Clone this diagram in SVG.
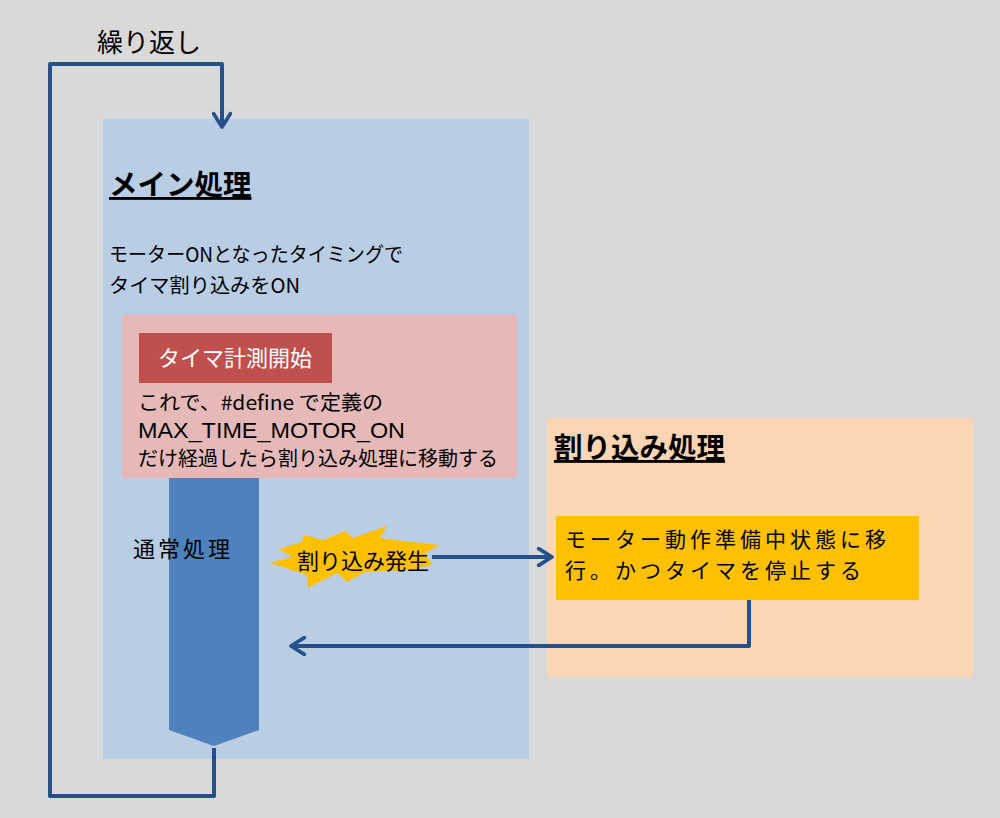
<svg xmlns="http://www.w3.org/2000/svg" width="1000" height="818" viewBox="0 0 1000 818">
<defs>
<marker id="chev" viewBox="0 0 12 12" refX="10" refY="6" markerWidth="5" markerHeight="5" markerUnits="strokeWidth" orient="auto">
<path d="M2,1 L10,6 L2,11" fill="none" stroke="#25508a" stroke-width="2.2" stroke-linecap="round" stroke-linejoin="round"/>
</marker>
</defs>
<style>
text{font-family:"Noto Sans CJK JP","Noto Sans",sans-serif;fill:#000}
.t{font-size:20px}
.h{font-size:28.5px;font-weight:bold;text-decoration:underline}
.c{fill:none;stroke:#25508a;stroke-width:4;stroke-linejoin:round}
</style>
<rect x="0" y="0" width="1000" height="818" fill="#d9d9d9"/>
<g id="loop-label"><text class="t" x="97" y="52" style="font-size:26px">繰り返し</text></g>
<g id="main">
<rect x="103" y="119" width="426" height="640" fill="#b9cde5"/>
<text class="h" x="109" y="195">メイン処理</text>
<text class="t" x="109" y="262" textLength="294" lengthAdjust="spacingAndGlyphs">モーターONとなったタイミングで</text>
<text class="t" x="109" y="293" textLength="191" lengthAdjust="spacingAndGlyphs">タイマ割り込みをON</text>
</g>
<g id="timer">
<rect x="122" y="315" width="395" height="163" fill="#e6b9b8"/>
<rect x="139" y="333" width="193" height="50" fill="#c0504d"/>
<text class="t" x="235" y="366" text-anchor="middle" style="fill:#fff;font-size:22px">タイマ計測開始</text>
<text class="t" x="138" y="410" textLength="245" lengthAdjust="spacingAndGlyphs">これで、#define で定義の</text>
<text x="138" y="438" style="font-family:'Liberation Sans','Noto Sans',sans-serif;font-size:22px" textLength="267" lengthAdjust="spacingAndGlyphs">MAX_TIME_MOTOR_ON</text>
<text class="t" x="138" y="466">だけ経過したら割り込み処理に移動する</text>
</g>
<g id="normal">
<polygon points="169,478 259,478 259,730 214,746 169,730" fill="#4f81bd"/>
<text class="t" x="133" y="557" style="font-size:22px;letter-spacing:3px">通常処理</text>
</g>
<g id="irq-event">
<polygon points="279,549 302,542 304,535 323,540 345,531 353,538 387,526 380,538 412,542 440,545 425,553 432,565 410,570 365,572 347,582 337,573 308,588 307,575 270,563 292,557" fill="#ffc000"/>
<text class="t" x="297" y="569" style="font-size:22px">割り込み発生</text>
</g>
<g id="interrupt">
<rect x="547" y="418" width="426" height="259" fill="#fcd5b5"/>
<text class="h" x="554" y="458">割り込み処理</text>
</g>
<g id="action">
<rect x="556" y="516" width="363" height="84" fill="#ffc000"/>
<text class="t" x="565" y="547" style="font-size:21px;letter-spacing:4px">モーター動作準備中状態に移</text>
<text class="t" x="565" y="578" style="font-size:21px;letter-spacing:4px">行。かつタイマを停止する</text>
</g>
<g id="connectors">
<path class="c" d="M214,748 V796 H50 V64 H222 V127" marker-end="url(#chev)"/>
<path class="c" d="M432,557 H552" marker-end="url(#chev)"/>
<path class="c" d="M749,600 V646 H291" marker-end="url(#chev)"/>
</g>
</svg>
